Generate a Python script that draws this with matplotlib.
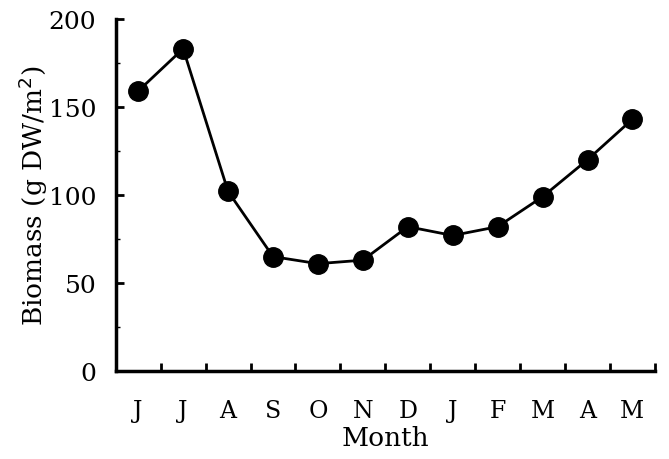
import matplotlib
matplotlib.use("Agg")
import matplotlib.pyplot as plt
from matplotlib.ticker import MultipleLocator

meses = ["J", "J", "A", "S", "O", "N", "D", "J", "F", "M", "A", "M"]
biomasa = [159, 183, 102, 65, 61, 63, 82, 77, 82, 99, 120, 143]

plt.rcParams["font.family"] = "DejaVu Serif"

fig = plt.figure(figsize=(6.69, 4.6), dpi=100)
ax = fig.add_axes([0.173, 0.191, 0.806, 0.766])

x = list(range(len(meses)))
ax.plot(x, biomasa, "o-", color="black", lw=2.0, markersize=14)

ax.set_xlim(-0.5, len(meses) - 0.5)
ax.set_ylim(0, 200)
ax.set_xticks(x)
ax.set_xticklabels(meses, fontsize=17)
ax.set_xticks([i - 0.5 for i in range(len(meses) + 1)], minor=True)
ax.tick_params(axis="x", which="major", length=0, pad=20)
ax.tick_params(axis="x", which="minor", direction="in", length=6, width=2)

ax.yaxis.set_major_locator(MultipleLocator(50))
ax.yaxis.set_minor_locator(MultipleLocator(25))
ax.tick_params(axis="y", which="major", direction="in", length=6, width=2, labelsize=18, pad=14)
ax.tick_params(axis="y", which="minor", direction="in", length=3, width=1)

for lado in ["top", "right"]:
    ax.spines[lado].set_visible(False)
for lado in ["left", "bottom"]:
    ax.spines[lado].set_linewidth(2.5)

ax.set_xlabel("Month", fontsize=19, labelpad=2)
ax.set_ylabel("Biomass (g DW/m$^2$)", fontsize=19)
ax.yaxis.set_label_coords(-0.122, 0.5)

fig.savefig("out.png", dpi=100)
